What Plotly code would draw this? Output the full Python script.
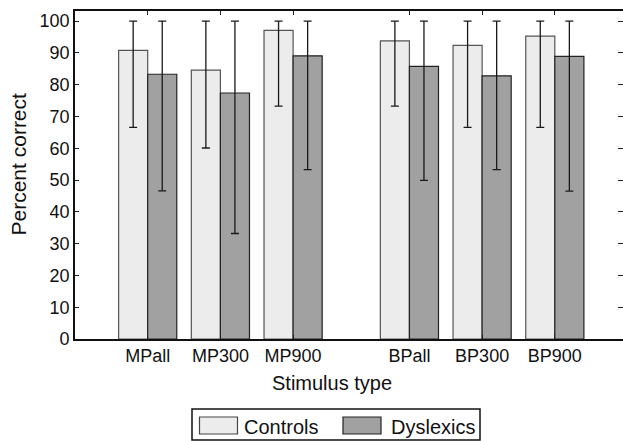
import plotly.graph_objects as go

categories = ["MPall", "MP300", "MP900", "BPall", "BP300", "BP900"]
positions = [1, 2, 3, 4.6, 5.6, 6.6]
controls = [90.8, 84.6, 97.1, 93.8, 92.4, 95.3]
controls_hi = [100, 100, 100, 100, 100, 100]
controls_lo = [66.6, 60.1, 73.3, 73.3, 66.6, 66.6]
dyslexics = [83.3, 77.4, 89.1, 85.8, 82.8, 88.9]
dyslexics_hi = [100, 100, 100, 100, 100, 100]
dyslexics_lo = [46.6, 33.2, 53.3, 49.9, 53.3, 46.5]
y_ticks = list(range(0, 101, 10))

W, H = 623, 441
L, R, T, B = 75, 0, 11, 102
PW, PH = W - L - R, H - T - B
Y_MAX = 103.2

FONT = "Liberation Sans, Arial, sans-serif"

def err(vals, hi, lo):
    return dict(type="data", symmetric=False,
                array=[h - v for v, h in zip(vals, hi)],
                arrayminus=[v - l for v, l in zip(vals, lo)],
                color="#1a1a1a", thickness=1.3, width=4)

fig = go.Figure()
fig.add_trace(go.Bar(x=positions, y=controls, width=0.4, offset=-0.4,
                     marker=dict(color="#ececec", line=dict(color="#555555", width=1.2)),
                     error_y=err(controls, controls_hi, controls_lo),
                     name="Controls", showlegend=False))
fig.add_trace(go.Bar(x=positions, y=dyslexics, width=0.4, offset=0,
                     marker=dict(color="#a1a1a1", line=dict(color="#222222", width=1.2)),
                     error_y=err(dyslexics, dyslexics_hi, dyslexics_lo),
                     name="Dyslexics", showlegend=False))
# invisible trace to anchor the right-hand tick axis
fig.add_trace(go.Scatter(x=[positions[0]], y=[0], yaxis="y2", mode="markers",
                         marker=dict(opacity=0), showlegend=False, hoverinfo="skip"))

fig.update_layout(
    width=W, height=H, autosize=False,
    margin=dict(l=L, r=R, t=T, b=B),
    plot_bgcolor="white", paper_bgcolor="white",
    barmode="overlay",
    font=dict(family=FONT, size=18, color="#111111"),
    xaxis=dict(range=[0, PW / 72.7], tickvals=positions, ticktext=categories,
               ticks="inside", ticklen=4, tickwidth=1, tickcolor="#222",
               showline=True, linecolor="#111", linewidth=1.6, mirror="ticks",
               showgrid=False, zeroline=False, tickfont=dict(size=18)),
    yaxis=dict(range=[0, Y_MAX], tickvals=y_ticks,
               ticks="inside", ticklen=4, tickwidth=1, tickcolor="#222",
               showline=True, linecolor="#111", linewidth=1.6, mirror=False,
               showgrid=False, zeroline=False, tickfont=dict(size=18)),
    yaxis2=dict(range=[0, Y_MAX], tickvals=y_ticks, overlaying="y", side="right",
                anchor="x", ticks="inside", ticklen=5, tickwidth=1, tickcolor="#222",
                showticklabels=False, showline=False, showgrid=False, zeroline=False),
)

def px(x):
    return (x - L) / PW

def py(y):
    return (T + PH - y) / PH

# axis titles
fig.add_annotation(text="Stimulus type", x=px(332), y=py(383),
                   xref="paper", yref="paper", showarrow=False,
                   font=dict(size=20), xanchor="center", yanchor="middle")
fig.add_annotation(text="Percent correct", x=px(17.5), y=py(164), textangle=-90,
                   xref="paper", yref="paper", showarrow=False,
                   font=dict(size=21), xanchor="center", yanchor="middle")

# custom legend
fig.add_shape(type="rect", xref="paper", yref="paper",
              x0=px(192), x1=px(480), y0=py(440), y1=py(409),
              line=dict(color="#111", width=1.5), fillcolor="white")
for (x0, x1, fill, edge, label, tx) in [
    (199.5, 237.5, "#ececec", "#444", "Controls", 242),
    (343, 381, "#a1a1a1", "#222", "Dyslexics", 388.5),
]:
    fig.add_shape(type="rect", xref="paper", yref="paper",
                  x0=px(x0), x1=px(x1), y0=py(434), y1=py(417),
                  line=dict(color=edge, width=1.2), fillcolor=fill)
    fig.add_annotation(text=label, x=px(tx), y=py(426.5), xref="paper", yref="paper",
                       showarrow=False, xanchor="left", yanchor="middle",
                       font=dict(size=20))

fig.write_html("out.html")
